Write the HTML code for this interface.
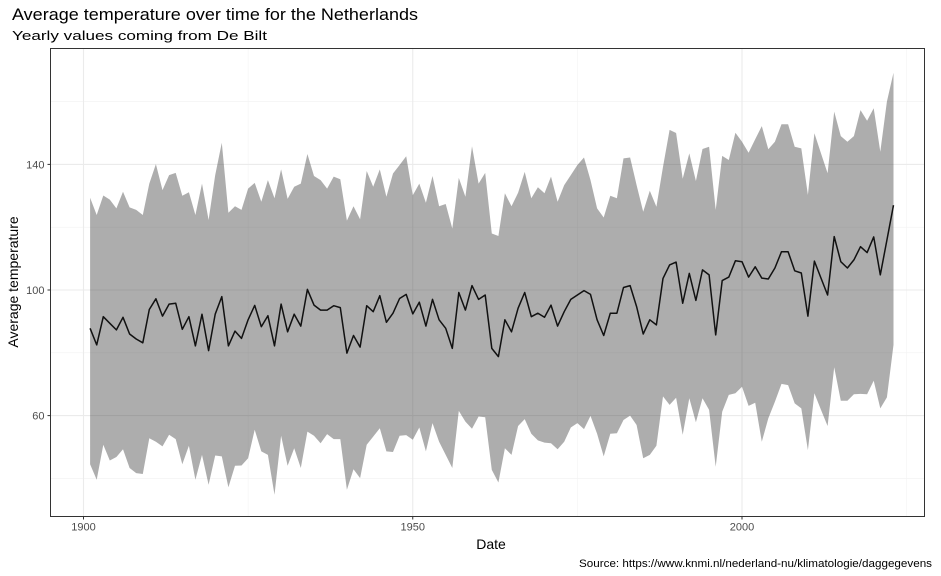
<!DOCTYPE html>
<html><head><meta charset="utf-8"><style>
body{margin:0;background:#fff;}
svg{display:block;font-family:"Liberation Sans",Arial,sans-serif;}
</style></head><body>
<svg id="chart" width="941" height="576" viewBox="0 0 941 576">
<text x="12" y="20" font-size="17" fill="#000" textLength="406" lengthAdjust="spacingAndGlyphs">Average temperature over time for the Netherlands</text>
<text x="12" y="40" font-size="13" fill="#000" textLength="255" lengthAdjust="spacingAndGlyphs">Yearly values coming from De Bilt</text>
<g id="grid"></g>
<g id="marks"></g>
<rect x="50.5" y="48.5" width="874" height="468" fill="none" stroke="#333" stroke-width="1"/>
<g id="axes"></g>
<text x="491" y="549" font-size="14" text-anchor="middle">Date</text>
<text transform="translate(18,282) rotate(-90)" font-size="14" text-anchor="middle">Average temperature</text>
<text x="579" y="567" font-size="11" fill="#000" textLength="353" lengthAdjust="spacingAndGlyphs">Source: https://www.knmi.nl/nederland-nu/klimatologie/daggegevens</text>
</svg>
<script>
const startYear = 1901;
const meanValues = [87.8,82.5,91.5,89.4,87.3,91.3,86,84.4,83.2,93.8,97.2,91.7,95.5,95.8,87.5,91.5,82.2,92.3,80.7,92.3,97.9,82.2,86.9,84.6,90.5,95.1,88.3,91.8,82.2,95.5,86.7,
92.3,88.5,100.2,95.2,93.6,93.6,95,94.4,79.9,85.5,81.8,95,93.1,98.2,89.7,92.6,97.3,98.6,92.4,96.1,88.5,97,90.5,87.8,81.4,99.2,93.6,101.4,97,98.4,
81.4,78.8,90.5,86.7,94.2,99.2,91.5,92.6,91.3,95.2,88.5,93.1,97,98.4,99.8,98.6,90.5,85.5,92.6,92.6,100.8,101.4,94.7,86,90.5,88.9,103.7,108,108.9,95.8,105.3,96.7,
106.4,104.8,85.7,103,104.1,109.3,109,104.1,107.4,103.8,103.5,107,112.2,112.2,106.1,105.4,91.7,109.2,103.8,98.4,117,109,107,109.6,113.8,111.9,116.9,104.8,115.9,127];
const upperValues = [129.4,123.9,130.1,128.8,126,131.3,126.3,125.5,123.9,133.9,140.1,131.8,136.6,137.3,130,131.1,123.9,133.9,122.3,136.6,146.9,124.6,126.7,125.5,132.3,134.1,128.1,135,129.2,138.4,129,
132.9,133.9,143.3,136.3,135,132.3,136.1,135.3,122.1,126.7,122.5,137.9,132.9,138.4,129.7,137.1,139.8,142.6,130.2,133.9,127.8,136.3,126.7,127.4,119.6,135.7,129.7,145.8,133.9,137.3,
118,117.2,130.8,126.7,131,137.6,129.2,132.7,130.8,136.1,128.1,133.4,136.6,139.8,142.2,135,126,123.1,130,129.2,141.9,142.2,133.4,124.9,131.6,126.5,139.2,151,150,135.4,143.5,134.7,
144.9,145.6,125.5,142.7,141.4,150.1,147.2,143.7,148,152.2,144.8,147.2,152.8,152.8,145.6,145.1,130.3,149.9,143.5,137.2,156.8,149,147.2,149,157.3,153.9,157.9,144,160,169.2];
const lowerValues = [44.5,39.6,50.7,45.7,46.8,49.3,43.3,41.7,41.4,52.8,51.7,50.2,53.9,52.5,44.5,50.4,39.6,47.5,38,47.3,47,37.2,44,44.1,46.4,55.5,48.6,47.5,34.8,53.6,44,
49.6,43.3,54.9,53.6,51.2,54.1,52.5,52.5,36.4,42.9,40.1,50.7,53.3,56,48.6,48.4,53.6,53.8,52.3,56.2,48.6,57.6,51.7,47.5,43.3,61.5,58.1,55.8,59.7,59.5,
42.7,38.7,49.6,47.5,56.7,58.9,54.2,52.1,51.4,51.2,49.3,51.7,56.2,57.6,55.7,59.9,54.2,47,54.2,54.4,58.6,60,57,46.4,47.5,50.4,66.1,63.4,65.7,53.9,65.5,57.9,
65.5,61.8,43.7,61.2,66.6,67.1,69.2,63.1,64.1,51.7,59.1,64.4,70.1,69.7,63.9,62.3,49,67.1,61.8,56.7,75.4,64.7,64.7,66.8,66.9,66.8,71.1,62.3,65.8,82.5];
const xTicks = [1900, 1950, 2000];
const xMinor = [1925, 1975, 2025];
const yTicks = [60, 100, 140];
const yMinor = [40, 80, 120, 160];

const NS = "http://www.w3.org/2000/svg";
function xs(yr){ return 83.5 + (yr - 1900) * 6.585; }
function ys(v){ return 290 - (v - 100) * 3.14; }
const PL = 50.5, PR = 924.5, PT = 48.5, PB = 516.5;
function mk(tag, attrs, parent){ const e = document.createElementNS(NS, tag); for (const k in attrs) e.setAttribute(k, attrs[k]); parent.appendChild(e); return e; }
const gridG = document.getElementById('grid'), marksG = document.getElementById('marks'), axesG = document.getElementById('axes');
mk('rect', {x:PL, y:PT, width:PR-PL, height:PB-PT, fill:'#fff'}, gridG);
yMinor.forEach(v => { const l = mk('line', {x1:PL, x2:PR, y1:ys(v), y2:ys(v), stroke:'#f2f2f2', 'stroke-width':0.6}, gridG);
  
   });
xMinor.forEach(v => { const l = mk('line', {x1:xs(v), x2:xs(v), y1:PT, y2:PB, stroke:'#f2f2f2', 'stroke-width':0.6}, gridG);
  
   });
yTicks.forEach(v => { const l = mk('line', {x1:PL, x2:PR, y1:ys(v), y2:ys(v), stroke:'#ebebeb', 'stroke-width':1.1}, gridG);
  
  
  const t = mk('line', {x1:PL-3, x2:PL, y1:ys(v), y2:ys(v), stroke:'#333'}, axesG);
  
  
  const tx = mk('text', {x:PL-6, y:ys(v)+4, 'font-size':11, fill:'#4d4d4d', 'text-anchor':'end'}, axesG); tx.textContent = v;
  
   });
xTicks.forEach(v => { const l = mk('line', {x1:xs(v), x2:xs(v), y1:PT, y2:PB, stroke:'#ebebeb', 'stroke-width':1.1}, gridG);
  
  
  const t = mk('line', {x1:xs(v), x2:xs(v), y1:PB, y2:PB+3, stroke:'#333'}, axesG);
  
  
  const tx = mk('text', {x:xs(v), y:PB+14, 'font-size':11, fill:'#4d4d4d', 'text-anchor':'middle'}, axesG); tx.textContent = v;
  
   });
const topPts = [], botPts = [], linePts = [];
upperValues.forEach((v, i) => topPts.push(xs(startYear+i).toFixed(1)+','+ys(v).toFixed(1)));
lowerValues.forEach((v, i) => botPts.push(xs(startYear+i).toFixed(1)+','+ys(v).toFixed(1)));
meanValues.forEach((v, i) => linePts.push(xs(startYear+i).toFixed(1)+','+ys(v).toFixed(1)));
const rib = mk('polygon', {points: topPts.concat(botPts.slice().reverse()).join(' '), fill:'#333', 'fill-opacity':0.4}, marksG);


const pl = mk('polyline', {points: linePts.join(' '), fill:'none', stroke:'#111', 'stroke-width':1.5, 'stroke-linejoin':'round'}, marksG);


</script>
</body></html>
